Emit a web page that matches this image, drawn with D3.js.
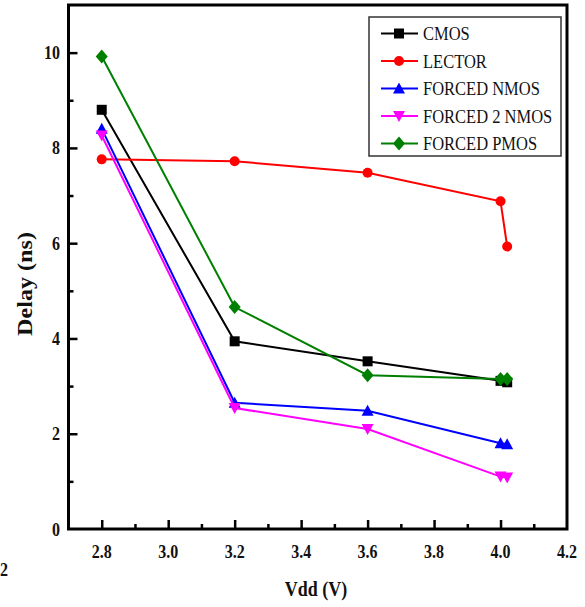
<!DOCTYPE html>
<html><head><meta charset="utf-8">
<script src="https://cdn.jsdelivr.net/npm/d3@7/dist/d3.min.js"></script>
<style>body{margin:0;background:#fff}svg{display:block}text{font-family:"Liberation Serif","Times New Roman",serif}</style>
</head><body>
<svg id="c" width="585" height="607"></svg>
<script>
const vdd = [2.8, 3.2, 3.6, 4.0, 4.02];
const seriesNames = ["CMOS", "LECTOR", "FORCED NMOS", "FORCED 2 NMOS", "FORCED PMOS"];
const cmos = [8.80, 3.94, 3.52, 3.11, 3.08];
const lector = [7.76, 7.72, 7.48, 6.88, 5.93];
const forcedNmos = [8.40, 2.65, 2.48, 1.80, 1.78];
const forced2Nmos = [8.26, 2.54, 2.10, 1.10, 1.08];
const forcedPmos = [9.92, 4.66, 3.23, 3.15, 3.15];
const colors = ["#000000", "#ff0000", "#0000ff", "#ff00ff", "#008000"];
const markers = ["square", "circle", "up", "down", "diamond"];
const xTicks = [2.8, 3.0, 3.2, 3.4, 3.6, 3.8, 4.0, 4.2];
const yTicks = [0, 2, 4, 6, 8, 10];
const xTitle = "Vdd (V)", yTitle = "Delay (ns)";

const allSeries = [cmos, lector, forcedNmos, forced2Nmos, forcedPmos];
const svg = d3.select("#c");
const L = 68.5, R = 567, T = 5, B = 529;
const x = d3.scaleLinear().domain([2.7, 4.2]).range([L, R]);
const y = d3.scaleLinear().domain([0, 11]).range([B, T]);

// frame
svg.append("rect").attr("x", L).attr("y", T).attr("width", R - L).attr("height", B - T)
  .attr("fill", "none").attr("stroke", "#000").attr("stroke-width", 3);

// axes ticks (inward)
const gx = svg.append("g").attr("transform", `translate(0,${B})`)
  .call(d3.axisBottom(x).tickValues(xTicks.filter(v => v < 4.2)).tickSize(-9).tickFormat(""));
const gxm = svg.append("g").attr("transform", `translate(0,${B})`)
  .call(d3.axisBottom(x).tickValues(d3.range(2.9, 4.15, 0.2)).tickSize(-5).tickFormat(""));
const gy = svg.append("g").attr("transform", `translate(${L},0)`)
  .call(d3.axisLeft(y).tickValues(yTicks.filter(v => v > 0)).tickSize(-9).tickFormat(""));
const gym = svg.append("g").attr("transform", `translate(${L},0)`)
  .call(d3.axisLeft(y).tickValues([1, 3, 5, 7, 9]).tickSize(-5).tickFormat(""));
[gx, gxm, gy, gym].forEach(g => { g.select(".domain").remove(); g.selectAll("line").attr("stroke", "#000").attr("stroke-width", 2.5); });

// tick labels
svg.selectAll(".xl").data(xTicks).join("text")
  .attr("transform", d => `translate(${x(d)},558) scale(1,1.2)`)
  .attr("text-anchor", "middle").attr("font-size", 16).attr("font-weight", "bold").attr("fill", "#111")
  .text(d => d.toFixed(1));
svg.selectAll(".yl").data(yTicks).join("text")
  .attr("transform", d => `translate(60,${y(d) + 6.5}) scale(1,1.2)`)
  .attr("text-anchor", "end").attr("font-size", 16).attr("font-weight", "bold").attr("fill", "#111")
  .text(d => d);
svg.append("text").attr("transform", "translate(0,576) scale(1,1.2)")
  .attr("font-size", 16).attr("font-weight", "bold").attr("fill", "#111").text("2");

// titles
svg.append("text").attr("transform", "translate(316,596) scale(1,1.2)").attr("text-anchor", "middle")
  .attr("font-size", 18).attr("font-weight", "bold").attr("fill", "#111").text(xTitle);
svg.append("text").attr("transform", "translate(32,284) rotate(-90) scale(1.15,1)").attr("text-anchor", "middle")
  .attr("font-size", 21).attr("font-weight", "bold").attr("fill", "#111").text(yTitle);

function marker(g, type, cx, cy, color) {
  if (type === "square") g.append("rect").attr("x", cx - 5).attr("y", cy - 5).attr("width", 10).attr("height", 10).attr("fill", color);
  else if (type === "circle") g.append("circle").attr("cx", cx).attr("cy", cy).attr("r", 5).attr("fill", color);
  else if (type === "up") g.append("path").attr("d", `M${cx},${cy - 6}L${cx + 6},${cy + 5}L${cx - 6},${cy + 5}Z`).attr("fill", color);
  else if (type === "down") g.append("path").attr("d", `M${cx},${cy + 6}L${cx + 6},${cy - 5}L${cx - 6},${cy - 5}Z`).attr("fill", color);
  else g.append("path").attr("d", `M${cx},${cy - 7}L${cx + 6},${cy}L${cx},${cy + 7}L${cx - 6},${cy}Z`).attr("fill", color);
}

const line = d3.line().x(d => x(d[0])).y(d => y(d[1]));
allSeries.forEach((s, i) => {
  const pts = vdd.map((v, j) => [v, s[j]]);
  const g = svg.append("g");
  g.append("path").attr("d", line(pts)).attr("fill", "none").attr("stroke", colors[i]).attr("stroke-width", 2);
  pts.forEach(p => marker(g, markers[i], x(p[0]), y(p[1]), colors[i]));
});

// legend
const lg = svg.append("g");
lg.append("rect").attr("x", 369).attr("y", 17).attr("width", 192).attr("height", 139)
  .attr("fill", "#fff").attr("stroke", "#333").attr("stroke-width", 1.5);
seriesNames.forEach((n, i) => {
  const yy = 33.5 + i * 27.5;
  lg.append("line").attr("x1", 381).attr("x2", 418).attr("y1", yy).attr("y2", yy).attr("stroke", colors[i]).attr("stroke-width", 2);
  marker(lg, markers[i], 399, yy, colors[i]);
  lg.append("text").attr("transform", `translate(423,${yy + 6.5}) scale(1,1.2)`)
    .attr("font-size", 16.5).attr("fill", "#111").text(n);
});
</script>
</body></html>
